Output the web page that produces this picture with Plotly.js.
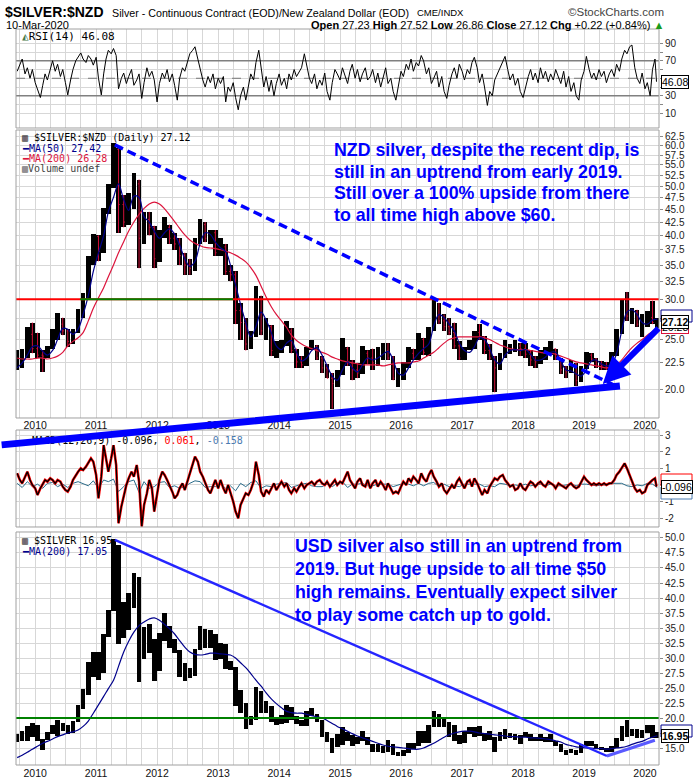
<!DOCTYPE html>
<html><head><meta charset="utf-8">
<script src="https://cdn.plot.ly/plotly-3.0.1.min.js"></script>
<style>html,body{margin:0;padding:0;background:#fff}#chart{width:700px;height:780px}</style>
</head><body><div id="chart"></div>
<script>
// ---------- DATA (monthly bars) ----------
// [month, open, high, low, close]  SILVER in NZD
const nzdBars = [
['2009-09',22.8,23.8,21.8,23.0],['2009-10',23.0,24.0,22.0,23.2],['2009-11',23.2,26.5,23.0,25.6],['2009-12',25.6,27.0,23.5,24.0],
['2010-01',24.0,25.8,23.0,23.3],['2010-02',23.3,23.8,21.6,23.2],['2010-03',23.2,24.3,23.0,24.0],['2010-04',24.0,26.2,24.0,25.8],
['2010-05',25.8,28.2,25.0,26.8],['2010-06',26.8,27.6,25.5,26.0],['2010-07',26.0,26.2,24.2,24.8],['2010-08',24.8,26.2,24.5,26.0],
['2010-09',26.0,28.7,25.8,28.4],['2010-10',28.4,30.8,27.5,30.2],['2010-11',30.2,36.5,30.0,35.5],['2010-12',35.5,40.2,35.0,39.8],
['2011-01',39.8,40.0,35.6,37.2],['2011-02',37.2,45.2,37.0,45.0],['2011-03',45.0,50.5,44.0,49.8],['2011-04',49.8,60.8,49.5,59.0],
['2011-05',59.0,59.5,40.5,46.0],['2011-06',46.0,48.0,41.5,42.5],['2011-07',42.5,48.5,42.0,46.5],['2011-08',46.5,53.0,45.0,50.5],
['2011-09',50.5,51.5,34.5,39.5],['2011-10',39.5,44.5,38.5,43.0],['2011-11',43.0,44.5,40.0,41.5],['2011-12',41.5,41.8,34.5,36.0],
['2012-01',36.0,41.0,35.5,40.5],['2012-02',40.5,43.5,39.5,41.5],['2012-03',41.5,42.0,38.5,39.5],['2012-04',39.5,40.5,37.5,38.5],
['2012-05',38.5,39.5,35.0,36.5],['2012-06',36.5,37.0,33.5,35.0],['2012-07',35.0,36.0,33.5,34.5],['2012-08',34.5,39.5,34.0,39.0],
['2012-09',39.0,43.0,38.5,42.0],['2012-10',42.0,42.5,38.8,39.5],['2012-11',39.5,41.0,38.5,40.5],['2012-12',40.5,41.0,36.5,37.0],
['2013-01',37.0,39.5,36.5,38.0],['2013-02',38.0,38.5,33.5,34.0],['2013-03',34.0,35.0,32.5,33.5],['2013-04',33.5,34.0,26.8,28.5],
['2013-05',28.5,29.5,25.0,27.0],['2013-06',27.0,27.5,23.8,24.5],['2013-07',24.5,26.0,24.0,25.5],['2013-08',25.5,31.8,25.3,30.0],
['2013-09',30.0,30.5,25.5,26.0],['2013-10',26.0,27.5,25.0,26.5],['2013-11',26.5,26.7,23.2,23.8],['2013-12',23.8,24.8,23.0,24.0],
['2014-01',24.0,25.0,23.5,24.5],['2014-02',24.5,27.2,24.3,26.0],['2014-03',26.0,26.3,23.5,23.8],['2014-04',23.8,24.0,22.0,22.6],
['2014-05',22.6,23.2,22.0,22.3],['2014-06',22.3,24.2,22.2,24.0],['2014-07',24.0,24.9,23.8,24.2],['2014-08',24.2,24.4,22.8,23.0],
['2014-09',23.0,23.2,21.5,22.0],['2014-10',22.0,22.4,21.0,21.0],['2014-11',21.0,21.5,18.3,20.5],['2014-12',20.5,21.8,20.2,21.4],
['2015-01',21.4,25.2,21.3,24.0],['2015-02',24.0,24.2,22.2,22.5],['2015-03',22.5,22.8,20.8,21.8],['2015-04',21.8,22.5,21.0,21.5],
['2015-05',21.5,24.3,21.4,23.5],['2015-06',23.5,23.8,22.4,23.0],['2015-07',23.0,24.0,21.8,22.5],['2015-08',22.5,24.2,22.2,23.5],
['2015-09',23.5,24.6,22.8,23.8],['2015-10',23.8,24.6,22.8,23.0],['2015-11',23.0,23.2,20.8,21.0],['2015-12',21.0,22.0,20.2,21.5],
['2016-01',21.5,22.6,20.8,22.2],['2016-02',22.2,24.2,22.0,23.5],['2016-03',23.5,24.0,22.8,23.0],['2016-04',23.0,25.8,22.8,25.0],
['2016-05',25.0,25.2,23.3,23.6],['2016-06',23.6,26.5,23.2,26.2],['2016-07',26.2,30.0,26.0,28.0],['2016-08',28.0,29.5,26.8,27.2],
['2016-09',27.2,28.0,26.0,26.5],['2016-10',26.5,27.5,25.5,25.8],['2016-11',25.8,27.0,24.0,24.3],['2016-12',24.3,24.8,22.8,23.0],
['2017-01',23.0,24.2,22.8,24.0],['2017-02',24.0,25.0,23.8,24.8],['2017-03',24.8,26.0,24.0,25.8],['2017-04',25.8,26.8,25.0,25.3],
['2017-05',25.3,25.4,23.4,23.8],['2017-06',23.8,24.5,22.8,23.0],['2017-07',23.0,23.2,19.7,22.0],['2017-08',22.0,23.5,21.8,23.3],
['2017-09',23.3,25.0,23.0,23.8],['2017-10',23.8,24.5,23.4,24.0],['2017-11',24.0,25.0,23.6,24.3],['2017-12',24.3,24.6,23.2,24.0],
['2018-01',24.0,24.6,23.0,23.4],['2018-02',23.4,23.8,22.2,22.8],['2018-03',22.8,23.2,22.0,22.6],['2018-04',22.6,23.8,22.4,23.0],
['2018-05',23.0,24.2,22.8,23.8],['2018-06',23.8,24.8,23.3,24.0],['2018-07',24.0,24.0,22.8,23.0],['2018-08',23.0,23.0,21.4,21.8],
['2018-09',21.8,22.2,21.0,21.6],['2018-10',21.6,22.8,21.5,22.4],['2018-11',22.4,22.5,20.3,20.8],['2018-12',20.8,22.2,20.6,22.0],
['2019-01',22.0,23.6,21.9,23.3],['2019-02',23.3,23.5,22.6,22.9],['2019-03',22.9,23.0,22.0,22.4],['2019-04',22.4,22.7,21.8,22.2],
['2019-05',22.2,22.6,21.8,22.0],['2019-06',22.0,23.6,21.9,23.4],['2019-07',23.4,26.2,23.2,25.9],['2019-08',25.9,30.0,25.6,29.6],
['2019-09',29.6,31.0,27.2,27.8],['2019-10',27.8,28.8,26.8,28.3],['2019-11',28.3,28.6,26.5,26.8],['2019-12',26.8,28.0,25.3,27.5],
['2020-01',27.5,28.5,26.5,27.6],['2020-02',27.6,29.8,26.8,27.0],['2020-03',27.0,27.6,26.4,27.12]
];
// [month, open, high, low, close]  SILVER in USD
const usdBars = [
['2009-09',16.2,17.3,16.0,16.5],['2009-10',16.5,17.9,16.2,16.4],['2009-11',16.4,18.6,16.2,18.5],['2009-12',18.5,19.2,16.8,16.9],
['2010-01',16.9,18.8,16.1,16.2],['2010-02',16.2,16.5,14.7,16.4],['2010-03',16.4,17.6,16.3,17.5],['2010-04',17.5,18.8,17.3,18.6],
['2010-05',18.6,19.6,17.0,18.4],['2010-06',18.4,19.2,17.8,18.7],['2010-07',18.7,18.8,17.4,18.0],['2010-08',18.0,19.5,17.5,19.4],
['2010-09',19.4,22.1,19.4,21.8],['2010-10',21.8,24.8,21.5,24.4],['2010-11',24.4,29.3,23.8,28.2],['2010-12',28.2,31.0,26.8,30.8],
['2011-01',30.8,31.0,26.4,27.9],['2011-02',27.9,34.0,27.5,33.9],['2011-03',33.9,38.0,33.5,37.8],['2011-04',37.8,49.8,37.8,48.6],
['2011-05',48.6,48.9,32.3,38.5],['2011-06',38.5,39.3,33.4,34.9],['2011-07',34.9,40.8,34.6,40.2],['2011-08',40.2,44.2,38.4,41.5],
['2011-09',41.5,43.5,26.0,30.4],['2011-10',30.4,35.2,29.8,34.5],['2011-11',34.5,35.6,30.8,32.6],['2011-12',32.6,33.2,26.2,28.2],
['2012-01',28.2,34.2,27.8,33.2],['2012-02',33.2,37.5,32.8,34.6],['2012-03',34.6,35.4,31.7,32.5],['2012-04',32.5,33.2,30.9,31.3],
['2012-05',31.3,31.3,26.8,28.2],['2012-06',28.2,29.2,26.2,27.5],['2012-07',27.5,28.4,26.6,27.8],['2012-08',27.8,31.5,27.0,31.4],
['2012-09',31.4,35.4,31.3,34.6],['2012-10',34.6,34.8,31.6,32.3],['2012-11',32.3,34.6,31.6,34.0],['2012-12',34.0,34.0,29.7,30.0],
['2013-01',30.0,32.5,29.9,31.8],['2013-02',31.8,32.4,28.2,28.6],['2013-03',28.6,29.5,28.0,28.4],['2013-04',28.4,28.5,22.0,24.1],
['2013-05',24.1,24.6,20.8,22.3],['2013-06',22.3,22.5,18.2,19.7],['2013-07',19.7,20.4,18.8,19.8],['2013-08',19.8,25.1,19.6,23.6],
['2013-09',23.6,24.5,20.8,21.7],['2013-10',21.7,22.8,20.8,21.9],['2013-11',21.9,22.0,19.3,19.5],['2013-12',19.5,20.1,18.8,19.4],
['2014-01',19.4,20.5,19.0,19.2],['2014-02',19.2,22.2,19.1,21.2],['2014-03',21.2,21.9,19.6,19.8],['2014-04',19.8,20.4,19.0,19.1],
['2014-05',19.1,19.6,18.6,18.8],['2014-06',18.8,21.2,18.7,21.0],['2014-07',21.0,21.6,20.3,20.4],['2014-08',20.4,20.6,19.3,19.4],
['2014-09',19.4,19.6,16.9,17.0],['2014-10',17.0,17.7,16.0,16.2],['2014-11',16.2,16.6,14.2,15.5],['2014-12',15.5,17.3,15.2,15.6],
['2015-01',15.6,18.5,15.5,17.2],['2015-02',17.2,17.6,16.2,16.6],['2015-03',16.6,17.2,15.3,16.6],['2015-04',16.6,16.8,15.6,16.3],
['2015-05',16.3,17.8,16.1,16.8],['2015-06',16.8,16.9,15.5,15.6],['2015-07',15.6,15.7,14.4,14.7],['2015-08',14.7,15.6,14.4,14.6],
['2015-09',14.6,15.3,14.2,14.5],['2015-10',14.5,16.3,14.4,15.5],['2015-11',15.5,15.6,13.9,14.1],['2015-12',14.1,14.4,13.6,13.8],
['2016-01',13.8,14.6,13.6,14.3],['2016-02',14.3,15.9,14.2,15.0],['2016-03',15.0,15.9,14.8,15.4],['2016-04',15.4,17.8,15.3,17.6],
['2016-05',17.6,17.8,15.8,16.0],['2016-06',16.0,18.9,15.8,18.5],['2016-07',18.5,21.2,18.5,20.3],['2016-08',20.3,20.6,18.5,18.8],
['2016-09',18.8,20.1,18.5,19.2],['2016-10',19.2,19.3,16.8,17.8],['2016-11',17.8,18.8,16.2,16.4],['2016-12',16.4,17.2,15.6,16.0],
['2017-01',16.0,17.9,15.9,17.7],['2017-02',17.7,18.5,17.4,18.4],['2017-03',18.4,18.5,16.8,18.2],['2017-04',18.2,18.7,17.0,17.3],
['2017-05',17.3,17.5,16.1,17.4],['2017-06',17.4,17.8,16.4,16.5],['2017-07',16.5,16.9,14.4,16.6],['2017-08',16.6,17.6,16.2,17.4],
['2017-09',17.4,18.2,16.5,16.7],['2017-10',16.7,17.5,16.6,16.7],['2017-11',16.7,17.4,16.4,16.4],['2017-12',16.4,17.2,15.6,17.1],
['2018-01',17.1,17.6,16.8,17.2],['2018-02',17.2,17.3,16.2,16.4],['2018-03',16.4,16.9,16.1,16.3],['2018-04',16.3,17.4,16.2,16.4],
['2018-05',16.4,16.8,16.0,16.4],['2018-06',16.4,17.3,16.0,16.1],['2018-07',16.1,16.2,15.3,15.5],['2018-08',15.5,15.6,14.3,14.5],
['2018-09',14.5,14.7,13.9,14.7],['2018-10',14.7,14.9,14.2,14.3],['2018-11',14.3,14.6,13.9,14.2],['2018-12',14.2,15.6,14.1,15.5],
['2019-01',15.5,16.2,15.3,16.0],['2019-02',16.0,16.1,15.4,15.6],['2019-03',15.6,15.6,14.9,15.1],['2019-04',15.1,15.2,14.6,15.0],
['2019-05',15.0,15.0,14.3,14.6],['2019-06',14.6,15.4,14.4,15.3],['2019-07',15.3,16.6,15.0,16.3],['2019-08',16.3,18.6,16.2,18.3],
['2019-09',18.3,19.7,16.9,17.0],['2019-10',17.0,18.1,17.0,17.9],['2019-11',17.9,18.1,16.7,17.0],['2019-12',17.0,18.0,16.7,17.9],
['2020-01',17.9,18.8,17.5,18.0],['2020-02',18.0,18.9,16.6,16.6],['2020-03',16.6,17.6,16.6,16.95]
];
// monthly moving-average readings
const nzdMA50 = [22.0,22.5,23.3,24.2,
24.3,23.7,23.3,23.8,25.0,26.3,26.2,25.6,26.2,28.0,30.5,34.0,
37.0,40.0,44.5,47.5,50.5,47.0,44.8,47.8,47.5,43.5,42.5,40.8,
39.5,40.5,41.2,40.2,38.3,36.0,34.8,35.6,38.6,40.5,40.2,38.8,
37.8,37.2,35.0,32.0,29.3,27.0,25.3,26.5,28.3,27.3,25.8,24.3,
23.9,24.6,24.9,23.6,22.7,23.0,23.8,24.1,23.3,22.2,21.2,20.8,
21.8,22.6,22.0,21.6,22.3,23.0,22.8,23.0,23.4,23.7,22.8,21.5,
21.3,22.0,22.8,23.5,24.0,24.5,26.6,28.0,27.6,26.8,26.0,24.6,
23.8,23.6,24.2,25.2,25.0,24.0,22.8,22.4,23.3,23.8,23.9,23.8,
23.9,23.4,22.8,22.8,23.1,23.6,23.6,22.7,21.8,21.7,21.4,21.2,
21.8,22.7,22.8,22.4,22.2,22.3,23.5,26.0,28.3,28.6,28.0,27.0,
26.8,27.3,27.42];
const nzdMA200 = [23.0,22.9,22.9,22.9,
23.0,23.0,22.9,23.0,23.2,23.6,24.3,24.8,25.2,25.8,27.2,28.8,
30.2,31.6,33.2,35.0,37.0,38.9,40.8,42.5,44.0,45.2,46.1,46.5,
46.1,45.1,43.9,42.6,41.3,40.1,39.2,38.6,38.2,37.9,37.8,37.7,
37.5,37.3,37.0,36.6,36.1,35.5,34.6,33.4,31.8,30.3,29.0,28.0,
27.2,26.4,25.5,24.9,24.5,24.2,24.0,23.8,23.6,23.4,23.1,22.9,
22.7,22.6,22.5,22.4,22.3,22.3,22.3,22.3,22.2,22.3,22.4,22.5,
22.5,22.5,22.6,22.7,23.0,23.3,23.6,24.1,24.6,25.0,25.2,25.3,
25.3,25.3,25.3,25.3,25.2,25.0,24.7,24.4,24.2,24.0,23.9,23.9,
23.9,23.8,23.7,23.6,23.5,23.5,23.4,23.2,23.0,22.8,22.6,22.5,
22.4,22.3,22.2,22.1,22.0,22.1,22.3,22.8,23.5,24.1,24.6,25.0,
25.5,25.9,26.28];
const usdMA200 = [13.4,13.8,14.3,14.8,
15.3,15.8,16.1,16.5,16.9,17.2,17.5,17.7,18.0,18.6,19.5,20.8,
22.2,23.6,24.9,26.3,28.6,31.0,32.8,34.3,35.4,36.0,36.5,36.7,
36.3,35.6,34.9,34.0,32.9,31.8,31.0,30.6,30.5,30.6,30.8,30.8,
30.7,30.6,30.5,30.0,29.2,28.4,27.4,26.3,25.3,24.2,23.2,22.4,
21.7,21.1,20.9,20.8,20.8,20.6,20.4,20.2,20.0,19.6,19.1,18.6,
18.2,17.8,17.4,17.0,16.7,16.4,16.1,15.8,15.5,15.3,15.2,15.1,
15.0,14.9,14.8,14.8,15.0,15.4,15.8,16.3,16.8,17.2,17.5,17.7,
17.8,17.8,17.7,17.5,17.4,17.3,17.2,17.1,17.0,16.9,16.9,16.8,
16.8,16.7,16.7,16.6,16.5,16.4,16.2,16.0,15.6,15.4,15.2,15.1,
15.0,15.0,14.9,14.9,14.8,14.9,15.0,15.1,15.3,15.6,15.9,16.1,
16.5,16.8,17.05];
// half-monthly indicator readings (1st and 15th of each month)
const rsi14 = [58,66,72,55,62,50,60,45,38,28,
42,55,48,62,70,58,66,52,60,45,
31,48,60,70,75,79,72,68,76,72,
65,74,50,31,55,72,82,78,84,76,
38,50,56,44,52,60,42,48,55,27,
45,62,52,58,48,23,44,56,50,60,
46,55,42,25,50,62,58,70,78,82,
86,72,60,48,40,52,45,55,38,50,
44,52,23,40,35,45,28,14,30,40,
25,42,55,48,68,82,60,40,52,35,
48,30,44,55,42,50,38,55,48,60,
52,58,62,78,66,50,44,55,38,48,
42,56,35,25,45,60,55,48,62,52,
44,58,66,50,60,46,55,62,48,52,
60,45,56,40,52,62,44,50,35,25,
40,58,52,66,60,72,58,68,64,76,
70,55,62,44,50,58,40,52,35,27,
42,55,62,50,66,58,48,60,55,68,
74,62,45,55,40,19,35,30,48,55,
62,68,75,60,48,55,42,50,35,28,
40,52,60,48,56,45,62,50,58,46,
55,48,60,52,44,58,40,52,35,45,
30,25,48,58,75,60,50,56,48,60,
52,58,45,55,60,52,66,58,72,82,
78,86,88,62,50,44,56,38,45,30,
60,72,46.08];
const macdLine = [0.7,0.3,0.1,0.5,0.8,0.3,0.0,-0.2,-0.6,-0.2,
0.1,0.3,0.2,0.4,0.3,0.1,0.3,0.2,-0.1,-0.3,
-0.4,-0.1,0.3,0.6,0.8,1.0,0.9,1.1,1.3,1.6,
1.4,0.6,-0.8,0.5,2.4,1.5,0.8,1.6,2.4,1.2,
-2.3,-1.3,-0.6,0.0,0.4,0.8,0.5,1.2,0.2,-2.5,
-1.2,-0.5,0.3,-0.2,-1.6,-0.6,0.3,0.8,0.6,0.3,
0.0,-0.4,-0.8,-0.6,-0.2,0.1,-0.3,0.2,0.6,1.2,
1.7,1.4,0.8,0.5,0.1,-0.3,-0.5,0.0,0.3,-0.2,
0.3,-0.2,-0.5,0.0,-0.4,-1.0,-1.6,-2.0,-1.2,-0.8,
-0.5,-0.6,-0.3,0.2,1.4,0.6,-0.4,-0.7,-0.3,-0.5,
-0.2,0.1,-0.3,0.0,0.2,-0.1,0.1,-0.3,-0.5,-0.2,
-0.4,-0.1,0.1,-0.2,0.0,0.1,0.2,0.0,0.2,0.3,
0.1,0.0,0.2,-0.1,0.1,0.3,0.0,0.2,0.1,0.5,
0.8,0.3,0.1,-0.2,0.2,0.4,0.0,-0.1,0.3,-0.2,
0.1,0.3,-0.1,0.2,0.0,-0.3,0.1,-0.2,-0.5,-0.4,
-0.5,-0.1,0.2,0.0,0.4,0.2,0.5,0.3,0.1,0.7,
0.4,0.2,0.6,0.9,0.5,0.2,-0.1,0.1,-0.3,-0.5,
-0.3,0.0,-0.2,0.2,0.4,0.1,-0.2,0.2,0.3,-0.1,
0.4,0.1,-0.2,-0.6,-0.3,-0.5,-0.1,0.2,0.4,0.3,
0.5,0.6,0.3,0.1,-0.1,0.0,-0.3,-0.2,0.1,-0.2,
-0.3,0.0,0.2,0.1,-0.1,0.1,0.2,0.0,-0.1,0.2,
0.1,0.0,-0.2,0.1,0.0,-0.1,-0.2,0.0,0.1,-0.1,
-0.2,-0.1,0.2,0.5,0.3,0.1,0.0,0.1,0.0,0.1,
0.0,0.1,0.0,0.1,0.1,0.3,0.6,0.8,1.0,1.3,
1.0,0.6,0.2,-0.2,-0.4,-0.3,-0.5,-0.4,0.0,0.2,
0.3,0.4,-0.096];
// monthly MACD histogram readings
const macdHist = [0.1,-0.15,0.2,-0.1,
0.05,-0.2,0.1,0.15,-0.1,0.05,-0.15,0.1,0.2,0.1,-0.05,0.25,
-0.2,0.3,0.2,0.35,-0.4,-0.1,0.2,0.3,-0.45,0.2,-0.2,-0.1,
0.15,0.2,-0.15,-0.05,-0.2,-0.1,0.1,0.25,0.2,-0.15,-0.1,-0.1,
0.05,-0.2,-0.05,-0.35,0.1,-0.1,0.15,0.25,-0.2,-0.05,-0.1,0.05,
0.1,0.15,-0.15,-0.05,0.05,0.1,-0.05,-0.1,-0.1,0.05,-0.1,0.1,
0.2,-0.15,0.05,0.05,0.1,-0.05,-0.05,0.05,0.05,0.05,-0.1,0.0,
0.1,0.05,-0.05,0.1,-0.05,0.1,0.15,-0.1,0.05,-0.1,-0.05,-0.1,
0.05,0.05,0.05,0.05,-0.1,-0.05,-0.1,0.1,0.05,-0.05,0.0,-0.05,
0.05,-0.05,0.0,0.05,-0.05,0.05,-0.05,-0.05,0.0,0.05,-0.05,0.05,
0.05,0.0,-0.05,0.0,0.0,0.1,0.1,0.1,-0.05,-0.1,0.0,-0.05,
0.1,0.05,-0.158];
// hand-drawn trendlines: [date, value]
const nzdDashedTrend = [['2011-04-23',60.2],['2019-07-23',20.18]];
const nzdSupportTrend = [['2009-06-05',15.53],['2019-08-04',20.27]];
const nzdArrowTrend = [['2019-04-23',20.45],['2020-03-31',26.46]];
const usdDownTrend = [['2011-04-23',49.7],['2019-05-18',13.67]];
const usdUpTrend = [['2019-05-18',13.67],['2020-02-29',16.3]];
const nzdResistance = 30, nzdGreenSpan = ['2010-09-27','2013-03-31'];
const usdLevel = 20;
const priceTicks = [20,22.5,25,27.5,30,32.5,35,37.5,40,42.5,45,47.5,50,52.5,55,57.5,60,62.5];
const usdTicks = [15,17.5,20,22.5,25,27.5,30,32.5,35,37.5,40,42.5,45,47.5,50];
const quoteLabels = ['Open','High','Low','Close','Chg'];
const quoteValues = ['27.23','27.52','26.86','27.12','+0.22 (+0.84%)'];
const lastVals = {nzd:27.12, ma50:27.42, ma200:26.28, rsi:46.08, macd:-0.096, signal:0.061, hist:-0.158, usd:16.95, usdMa:17.05};
const nzdNote = ['NZD silver, despite the recent dip, is','still in an uptrend from early 2019.','Still over a 100% upside from there','to all time high above $60.'];
const usdNote = ['USD silver also still in an uptrend from','2019. But huge upside to all time $50','high remains. Eventually expect silver','to play some catch up to gold.'];

// ---------- BUILD ----------
const X0 = '2009-09-08', X1 = '2020-03-25';
const months = nzdBars.map(r => r[0]);
const monthDates = months.map(m => m + '-15');
const halfDates = [];
months.forEach((m, i) => {
  if (i === 0) halfDates.push(m + '-15');
  else if (i === months.length - 1) halfDates.push(m + '-01', m + '-10');
  else halfDates.push(m + '-01', m + '-15');
});

const W = 700, H = 780, M = {l:16, r:41, t:29, b:15};
const PW = W - M.l - M.r, PH = H - M.t - M.b;
const dom = {rsi:[0.86549,1], main:[0.47147,0.86277], macd:[0.32337,0.45516], usd:[0,0.31658]};
const mainRange = [1.24417, 1.80887];
const t0 = Date.parse(X0), t1 = Date.parse(X1);
const xp = d => (Date.parse(d) - t0) / (t1 - t0);
const ypMain = v => dom.main[0] + (Math.log10(v) - mainRange[0]) / (mainRange[1] - mainRange[0]) * (dom.main[1] - dom.main[0]);
const pxX = p => (p - M.l) / PW;          // pixel -> paper (layout placement only)
const pxY = p => (H - M.b - p) / PH;

const BLUE = '#0000ff', NAVY = '#00008b', CRIMSON = '#dc143c';
const grid = '#d7d7d7';
const arial = 'Arial, Liberation Sans, sans-serif';
const mono = 'DejaVu Sans Mono, Liberation Mono, monospace';
const axFont = {family:arial, size:10, color:'#222'};
const DAY = 86400000;

// daily bars shown as the monthly high-low range, down months marked in red
function rangeBars(bars, xa, ya) {
  return {type:'bar', x:monthDates, base:bars.map(r=>r[3]), y:bars.map(r=>r[2]-r[3]), width:27*DAY,
    xaxis:xa, yaxis:ya, marker:{color:'#000', line:{width:0}}, hoverinfo:'skip'};
}
const traces = [];
// RSI
[[30,'#808080','solid',1.5],[70,'#808080','solid',1.5],[50,'#777','dash',1]].forEach(([lv,c,d,w]) => {
  traces.push({type:'scatter', mode:'lines', x:[X0,X1], y:[lv,lv], xaxis:'x', yaxis:'y', line:{color:c, width:w, dash:d}, hoverinfo:'skip'});
});
traces.push({type:'scatter', mode:'lines', x:halfDates, y:rsi14, xaxis:'x', yaxis:'y', line:{color:'#000', width:1}});
// NZD price
traces.push(rangeBars(nzdBars, 'x', 'y2'));
traces.push({type:'ohlc', x:monthDates, open:nzdBars.map(r=>r[1]), high:nzdBars.map(r=>r[2]), low:nzdBars.map(r=>r[3]), close:nzdBars.map(r=>r[4]),
  xaxis:'x', yaxis:'y2', tickwidth:0.25,
  increasing:{line:{color:'rgba(0,0,0,0)', width:1}}, decreasing:{line:{color:'#d0103a', width:1}}});
traces.push({type:'scatter', mode:'lines', x:monthDates, y:nzdMA200, xaxis:'x', yaxis:'y2', line:{color:CRIMSON, width:1.2, shape:'spline'}});
traces.push({type:'scatter', mode:'lines', x:monthDates, y:nzdMA50, xaxis:'x', yaxis:'y2', line:{color:NAVY, width:1.2, shape:'spline'}});
traces.push({type:'scatter', mode:'lines', x:[X0,X1], y:[nzdResistance,nzdResistance], xaxis:'x', yaxis:'y2', line:{color:'#ff0000', width:2}});
traces.push({type:'scatter', mode:'lines', x:nzdGreenSpan, y:[nzdResistance,nzdResistance], xaxis:'x', yaxis:'y2', line:{color:'#008000', width:2}});
traces.push({type:'scatter', mode:'lines', x:nzdDashedTrend.map(p=>p[0]), y:nzdDashedTrend.map(p=>p[1]), xaxis:'x', yaxis:'y2', line:{color:BLUE, width:3.5, dash:'9px,5px'}});
// MACD
traces.push({type:'scatter', mode:'lines', x:monthDates, y:macdHist, xaxis:'x', yaxis:'y3', line:{color:'#2b6c8a', width:1}});
traces.push({type:'scatter', mode:'lines', x:halfDates, y:macdLine, xaxis:'x', yaxis:'y3', line:{color:'#ff0000', width:2.6}});
traces.push({type:'scatter', mode:'lines', x:halfDates, y:macdLine, xaxis:'x', yaxis:'y3', line:{color:'#000', width:1.3}});
// USD price
traces.push(rangeBars(usdBars, 'x2', 'y4'));
traces.push({type:'scatter', mode:'lines', x:monthDates, y:usdMA200, xaxis:'x2', yaxis:'y4', line:{color:NAVY, width:1.2, shape:'spline'}});
traces.push({type:'scatter', mode:'lines', x:[X0,X1], y:[usdLevel,usdLevel], xaxis:'x2', yaxis:'y4', line:{color:'#008000', width:2.2}});
traces.push({type:'scatter', mode:'lines', x:usdDownTrend.map(p=>p[0]), y:usdDownTrend.map(p=>p[1]), xaxis:'x2', yaxis:'y4', line:{color:'#2525ff', width:2.4}});
traces.push({type:'scatter', mode:'lines', x:usdUpTrend.map(p=>p[0]), y:usdUpTrend.map(p=>p[1]), xaxis:'x2', yaxis:'y4', line:{color:'#5a5aff', width:3}});

const xCommon = {type:'date', range:[X0,X1], showgrid:true, gridcolor:grid, gridwidth:1, dtick:'M12', tick0:'2010-01-01', tickformat:'%Y',
  ticks:'', tickfont:{family:arial, size:10.5, color:'#111'}, zeroline:false, showline:false,
  minor:{dtick:'M3', tick0:'2010-01-01', showgrid:true, gridcolor:grid, gridwidth:1}, rangeslider:{visible:false}, fixedrange:true};
const yCommon = {side:'right', showgrid:true, gridcolor:grid, zeroline:false, showline:false, ticks:'outside', ticklen:3, tickcolor:'#888', tickfont:axFont, fixedrange:true};

const ann = [];
function txt(x, y, text, opts) { ann.push(Object.assign({xref:'paper', yref:'paper', x:pxX(x), y:pxY(y), text:text, showarrow:false, xanchor:'left', yanchor:'middle', font:{family:arial, size:11, color:'#000'}}, opts||{})); }
// header
txt(3, 12, '<b>$SILVER:$NZD</b>', {font:{family:arial, size:14, color:'#000'}});
txt(110, 13, 'Silver - Continuous Contract (EOD)/New Zealand Dollar (EOD)', {font:{family:arial, size:10.7, color:'#000'}});
txt(415, 13, 'CME/INDX', {font:{family:arial, size:9.5, color:'#000'}});
txt(666, 12, '©StockCharts.com', {xanchor:'right', font:{family:arial, size:11.5, color:'#444'}});
txt(4, 25, '10-Mar-2020', {font:{family:arial, size:11, color:'#000'}});
txt(666, 25, quoteLabels.map((l,i)=>'<b>'+l+'</b> '+quoteValues[i]).join(' ') + ' <span style="color:#1a9a1a">▲</span>', {xanchor:'right', font:{family:arial, size:11, color:'#000'}});
// panel legends
txt(20, 36, '<span style="color:#4a7a4a">◭</span>RSI(14) ' + lastVals.rsi.toFixed(2), {font:{family:mono, size:11, color:'#000'}});
txt(20, 137, '▥ $SILVER:$NZD (Daily) ' + lastVals.nzd.toFixed(2), {font:{family:mono, size:10, color:'#000'}});
txt(20, 148, '━MA(50) ' + lastVals.ma50.toFixed(2), {font:{family:mono, size:10, color:NAVY}});
txt(20, 158, '━MA(200) ' + lastVals.ma200.toFixed(2), {font:{family:mono, size:10, color:CRIMSON}});
txt(20, 168, '▥Volume undef', {font:{family:mono, size:10, color:'#444'}});
txt(18, 440, '▬ MACD(12,26,9) ' + lastVals.macd.toFixed(3) + ', <span style="color:#ff0000">' + lastVals.signal.toFixed(3) + '</span>, <span style="color:#4a7ab0">' + lastVals.hist.toFixed(3) + '</span>', {font:{family:mono, size:10, color:'#000'}});
txt(20, 540, '▥ $SILVER ' + lastVals.usd.toFixed(2), {font:{family:mono, size:10, color:'#000'}});
txt(20, 551, '━MA(200) ' + lastVals.usdMa.toFixed(2), {font:{family:mono, size:10, color:NAVY}});
// notes
const noteFont = {family:arial, size:17.8, color:BLUE};
nzdNote.forEach((s,i) => txt(332, 150 + i*21.7, '<b>'+s+'</b>', {font:noteFont}));
usdNote.forEach((s,i) => txt(293, 545.5 + i*23, '<b>'+s+'</b>', {font:noteFont}));
// thick hand-drawn lines (drawn unclipped, from data endpoints)
function lineAnn(p0, p1, width, color, head) {
  const hx = xp(p0[0]), hy = ypMain(p0[1]), tx = xp(p1[0]), ty = ypMain(p1[1]);
  ann.push({xref:'paper', yref:'paper', x:hx, y:hy, ax:(tx-hx)*PW, ay:-(ty-hy)*PH, text:'', showarrow:true,
    arrowhead:head, arrowsize:head ? 0.9 : 1, arrowwidth:width, arrowcolor:color, standoff:0, startstandoff:0});
}
lineAnn(nzdSupportTrend[1], nzdSupportTrend[0], 7, BLUE, 0);
lineAnn(nzdArrowTrend[0], nzdArrowTrend[1], 6, BLUE, 2);
// last-value boxes on the right axis
function box(yref, yv, text, color, bold, shift) {
  ann.push({xref:'paper', yref:yref, x:1, y:yv, xanchor:'left', yanchor:'middle', xshift:2, yshift:shift||0, text:bold?'<b>'+text+'</b>':text, showarrow:false,
    font:{family:arial, size:10.5, color:'#000'}, bgcolor:'#fff', bordercolor:color, borderwidth:1, borderpad:0});
}
box('y', lastVals.rsi, lastVals.rsi.toFixed(2), '#000', false);
box('y2', Math.log10(lastVals.ma200), lastVals.ma200.toFixed(2), CRIMSON, false, 2);
box('y2', Math.log10(lastVals.nzd), lastVals.nzd.toFixed(2), '#000', true);
box('y3', lastVals.macd, lastVals.macd.toFixed(3), '#000', false);
box('y4', lastVals.usd, lastVals.usd.toFixed(2), '#000', true);

// panel frames + partially hidden value boxes (borders peeking out behind the front boxes)
const shapes = ['y','y2','y3','y4'].map(r => ({type:'rect', xref:'paper', yref:r + ' domain', x0:0, x1:1, y0:0, y1:1, line:{color:'#a0a0a0', width:1}, layer:'above'}));
function peek(yPix, color) { shapes.push({type:'rect', xref:'paper', yref:'paper', x0:pxX(661), x1:pxX(692), y0:pxY(yPix+6), y1:pxY(yPix-6), line:{color:color, width:1}, fillcolor:'#fff', layer:'above'}); }

const layout = {
  width:W, height:H, margin:M, paper_bgcolor:'#fff', plot_bgcolor:'#fff', showlegend:false, hovermode:false,
  font:{family:arial, size:11, color:'#000'}, barmode:'overlay', bargap:0,
  xaxis:Object.assign({}, xCommon, {anchor:'y2', domain:[0,1]}),
  xaxis2:Object.assign({}, xCommon, {anchor:'y4', domain:[0,1], matches:'x'}),
  yaxis:Object.assign({}, yCommon, {domain:dom.rsi, anchor:'x', range:[-6.8,106.3], tickvals:[10,20,30,40,50,60,70,80,90], ticktext:['10','','30','','','','70','','90']}),
  yaxis2:Object.assign({}, yCommon, {domain:dom.main, anchor:'x', type:'log', range:mainRange, tickvals:priceTicks, ticktext:priceTicks.map(v=>v===27.5?'':v.toFixed(1))}),
  yaxis3:Object.assign({}, yCommon, {domain:dom.macd, anchor:'x', range:[-2.53,3.31], tickvals:[-2,-1,0,1,2,3], ticktext:['-2','-1','','1','2','3']}),
  yaxis4:Object.assign({}, yCommon, {domain:dom.usd, anchor:'x2', range:[12.17,51], tickvals:usdTicks, ticktext:usdTicks.map(v=>v===17.5?'':v.toFixed(1))}),
  annotations:ann, shapes:shapes
};
// peeking box borders: NZD MA(50) above the close box, MACD signal above / histogram below, USD MA(200) above
peek(316, NAVY); peek(480, '#ff0000'); peek(493, '#4a7ab0'); peek(731, NAVY);
Plotly.newPlot('chart', traces, layout, {staticPlot:true, displayModeBar:false});
</script></body></html>
